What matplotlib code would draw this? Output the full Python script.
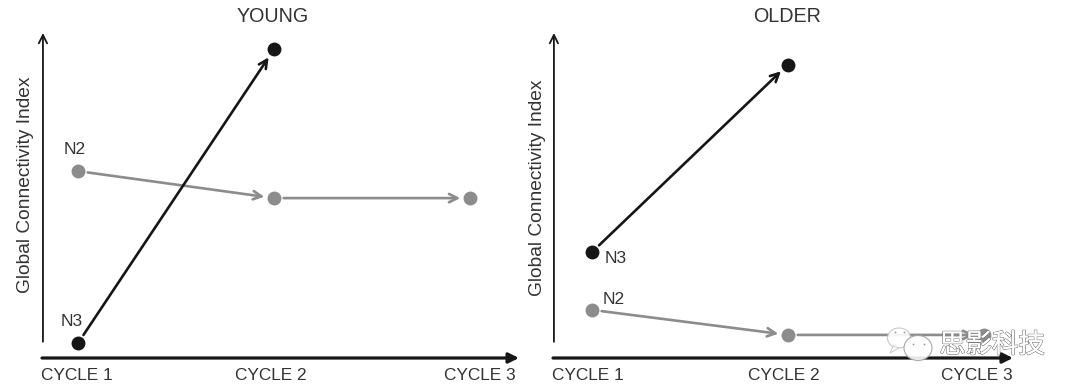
import matplotlib
matplotlib.use("Agg")
import matplotlib.pyplot as plt
from matplotlib.patches import Ellipse, Polygon
import matplotlib.patheffects as pe

plt.rcParams['font.family'] = ['Liberation Sans', 'DejaVu Sans']

cycles = [1, 2, 3]
cycle_labels = ["CYCLE 1", "CYCLE 2", "CYCLE 3"]

young_n2 = [57.5, 49.2, 49.2]
young_n3 = [4.6, 95.0]
older_n2 = [14.8, 7.1, 7.1]
older_n3 = [32.6, 90.3]

TXT = "#333333"
BLACK = "#161616"
GREY = "#8c8c8c"
W, H = 1080, 392


def make_axes(left, right, xlim):
    ax = fig.add_axes([left / W, (H - 358) / H, (right - left) / W, 325 / H])
    ax.set_xlim(*xlim)
    ax.set_ylim(0, 100)
    ax.axis("off")
    return ax


def arrow(ax, a, b, color, lw, shrink_a=7, shrink_b=7, scale=15):
    ax.annotate("", xy=b, xytext=a,
                arrowprops=dict(arrowstyle="->", color=color, lw=lw, mutation_scale=scale,
                                shrinkA=shrink_a, shrinkB=shrink_b), annotation_clip=False)


def draw_series(ax, xs, ys, color, lw):
    for i in range(len(xs) - 1):
        arrow(ax, (xs[i], ys[i]), (xs[i + 1], ys[i + 1]), color, lw)
    ax.plot(xs, ys, linestyle="none", marker="o", ms=10, mec="none", mfc=color, clip_on=False, zorder=5)


def draw_panel(ax, title, n2, n3, n2_off, n3_off, lab_off, ylab_x, ylab_y, title_x):
    # axis arrows
    ax.annotate("", xy=(0.002, 1.0), xytext=(0.002, 0.05), xycoords="axes fraction",
                arrowprops=dict(arrowstyle="->", color=BLACK, lw=1.3, mutation_scale=15,
                                shrinkA=0, shrinkB=0))
    ax.annotate("", xy=(1.002, 0.0), xytext=(0.0, 0.0), xycoords="axes fraction",
                arrowprops=dict(arrowstyle="-|>", color=BLACK, lw=2.3, mutation_scale=15,
                                shrinkA=0, shrinkB=0))
    draw_series(ax, cycles[:len(n2)], n2, GREY, 1.9)
    draw_series(ax, cycles[:len(n3)], n3, BLACK, 1.9)
    ax.annotate("N2", (cycles[0], n2[0]), xytext=n2_off, textcoords="offset pixels",
                ha="center", va="center", fontsize=12.5, color=TXT)
    ax.annotate("N3", (cycles[0], n3[0]), xytext=n3_off, textcoords="offset pixels",
                ha="center", va="center", fontsize=12.5, color=TXT)
    for c, lab, off in zip(cycles, cycle_labels, lab_off):
        ax.annotate(lab, (c, 0), xytext=(off, -18), textcoords="offset pixels",
                    ha="center", va="center", fontsize=12.4, color=TXT, annotation_clip=False)
    fig.text(title_x / W, 1 - 17 / H, title, ha="center", va="center", fontsize=14.2, color=TXT)
    fig.text(ylab_x / W, 1 - ylab_y / H, "Global Connectivity Index", rotation=90,
             ha="center", va="center", fontsize=13.8, color=TXT)


fig = plt.figure(figsize=(10.8, 3.92), dpi=100)
ax1 = make_axes(42, 518, (0.816, 3.245))
ax2 = make_axes(553, 1012, (0.801, 3.143))

draw_panel(ax1, "YOUNG", young_n2, young_n3, (-3, 22), (-6, 22), (-1, -3, 10), 26, 185, 273)
draw_panel(ax2, "OLDER", older_n2, older_n3, (22, 10), (24, -6), (-4, -4, -7), 538, 188, 787)

# watermark
ov = fig.add_axes([0, 0, 1, 1], zorder=10)
ov.set_xlim(0, W)
ov.set_ylim(H, 0)
ov.axis("off")
ov.patch.set_alpha(0)
ov.add_patch(Ellipse((899, 338), 23, 20, fc="white", ec="#c4c4c4", lw=0.8, alpha=0.9))
ov.add_patch(Polygon([(893, 346), (890, 353), (899, 348)], fc="white", ec="#c4c4c4", lw=0.6))
ov.add_patch(Ellipse((918, 348), 28, 25, fc="white", ec="#a0a0a0", lw=0.8, alpha=0.9))
for x, y in [(895, 332), (904, 332), (913, 344), (924, 344)]:
    ov.plot([x], [y], marker="o", ms=1.3, color="#999999", mec="none")
ov.text(992, 345, "思影科技", ha="center", va="center", fontsize=19, color="white",
        family=["Noto Sans CJK SC", "DejaVu Sans"],
        path_effects=[pe.withStroke(linewidth=1.0, foreground="#777777"), pe.Normal()])

fig.savefig("out.png", dpi=100)
